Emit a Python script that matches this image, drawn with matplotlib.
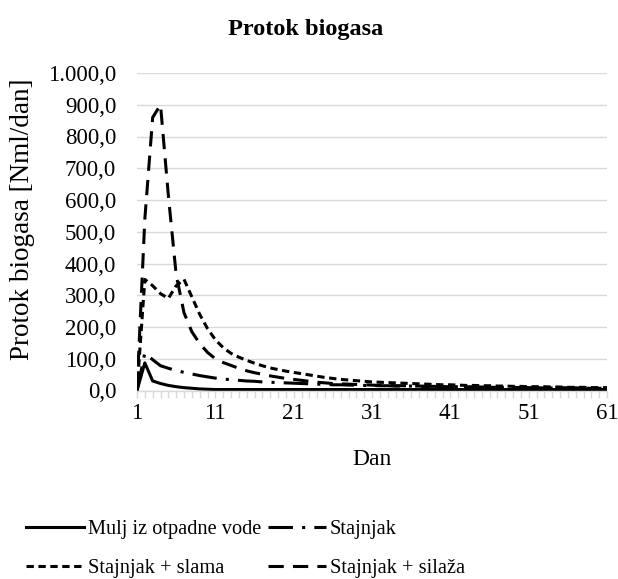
import matplotlib
matplotlib.use("Agg")
import matplotlib.pyplot as plt
from matplotlib.ticker import FuncFormatter

days = list(range(1, 62))

mulj = [0, 87, 30, 22, 16, 12, 9, 7, 5, 4, 3, 3, 3, 3, 3, 3,
        3, 3, 3, 3, 3, 3, 3, 3, 3, 3, 3, 3, 3, 3,
        3, 3, 3, 3, 3, 3, 3, 3, 3, 3, 3, 3, 3, 3, 3, 3,
        3, 3, 3, 3, 3, 3, 3, 3, 3, 3, 3, 3, 3, 3, 3]

stajnjak = [0, 118, 97, 78, 70, 63, 57, 52, 47, 43, 39, 36, 34, 32, 30, 29,
            27, 26, 25, 24, 23, 22, 21, 20, 19, 18, 18, 17, 17, 16,
            16, 15, 15, 14, 14, 14, 13, 13, 13, 12, 12, 12, 11, 11, 11, 10,
            10, 10, 10, 9, 9, 9, 9, 8, 8, 8, 8, 8, 7, 7, 7]

slama = [0, 350, 330, 305, 290, 330, 350, 295, 240, 195, 160, 135, 117, 105, 95, 86,
         78, 71, 66, 61, 57, 53, 49, 45, 41, 38, 35, 33, 31, 29,
         27, 26, 25, 24, 23, 22, 21, 20, 19, 18, 18, 17, 16, 16, 15, 15,
         14, 14, 13, 13, 12, 12, 12, 11, 11, 10, 10, 10, 9, 9, 9]

silaza = [0, 540, 860, 900, 615, 365, 245, 185, 148, 120, 100, 88, 79, 70, 62, 56,
          51, 46, 42, 38, 35, 32, 29, 26, 24, 22, 21, 20, 19, 18,
          17, 16, 16, 15, 15, 14, 14, 13, 13, 12, 12, 12, 11, 11, 11, 10,
          10, 10, 9, 9, 9, 9, 8, 8, 8, 8, 7, 7, 7, 7, 7]

labels = ["Mulj iz otpadne vode", "Stajnjak", "Stajnjak + slama", "Stajnjak + silaža"]
title = "Protok biogasa"
xlabel = "Dan"
ylabel = "Protok biogasa [Nml/dan]"
xtick_labels = [1, 11, 21, 31, 41, 51, 61]
ytick_values = list(range(0, 1001, 100))

plt.rcParams['font.family'] = ['Liberation Serif', 'DejaVu Serif']

fig = plt.figure(figsize=(6.18, 5.79), dpi=100)
ax = fig.add_axes([137/618, 1 - 390.5/579, (607-137)/618, (390.5-73)/579])

lw = 2.2
h_mulj, = ax.plot(days, mulj, color='black', lw=lw, solid_joinstyle='round', label=labels[0])
h_staj, = ax.plot(days, stajnjak, color='black', lw=lw, dashes=(8, 3, 1, 3), label=labels[1])
h_slama, = ax.plot(days, slama, color='black', lw=lw, dashes=(2.4, 1.5), label=labels[2])
h_sil, = ax.plot(days, silaza, color='black', lw=lw, dashes=(5, 3), label=labels[3])

ax.set_xlim(1, 61)
ax.set_ylim(0, 1000)
ax.set_yticks(ytick_values)

def yfmt(v, pos):
    s = f"{v:,.1f}"
    return s.replace(",", "X").replace(".", ",").replace("X", ".")

ax.yaxis.set_major_formatter(FuncFormatter(yfmt))
ax.set_xticks(days)
ax.set_xticklabels([str(d) if d in xtick_labels else "" for d in days])

ax.grid(axis='y', color='#d9d9d9', lw=1.0)
ax.set_axisbelow(True)
for s in ['top', 'right', 'left']:
    ax.spines[s].set_visible(False)
ax.spines['bottom'].set_color('#d9d9d9')
ax.spines['bottom'].set_linewidth(1.0)
ax.tick_params(axis='y', length=0, labelsize=16.5, pad=15)
ax.tick_params(axis='x', length=5, color='#d9d9d9', width=1.0, labelsize=16.5, pad=4)

fig.text(306/618, 1 - 30/579, title, fontsize=17.5, fontweight='bold', ha='center', va='center')
ax.set_xlabel(xlabel, fontsize=17, labelpad=18)
ax.set_ylabel(ylabel, fontsize=19.5)
ax.yaxis.set_label_coords((35 - 137)/470, 0.5 + 12/317.5)

fig.legend([h_mulj, h_slama, h_staj, h_sil], [labels[0], labels[2], labels[1], labels[3]],
           loc='upper left', bbox_to_anchor=(18/618, 1 - 512/579), ncol=2,
           frameon=False, fontsize=14.7, handlelength=2.85, handletextpad=0.2,
           columnspacing=0.3, labelspacing=0.95, borderaxespad=0)

fig.savefig("out.png", dpi=100)
